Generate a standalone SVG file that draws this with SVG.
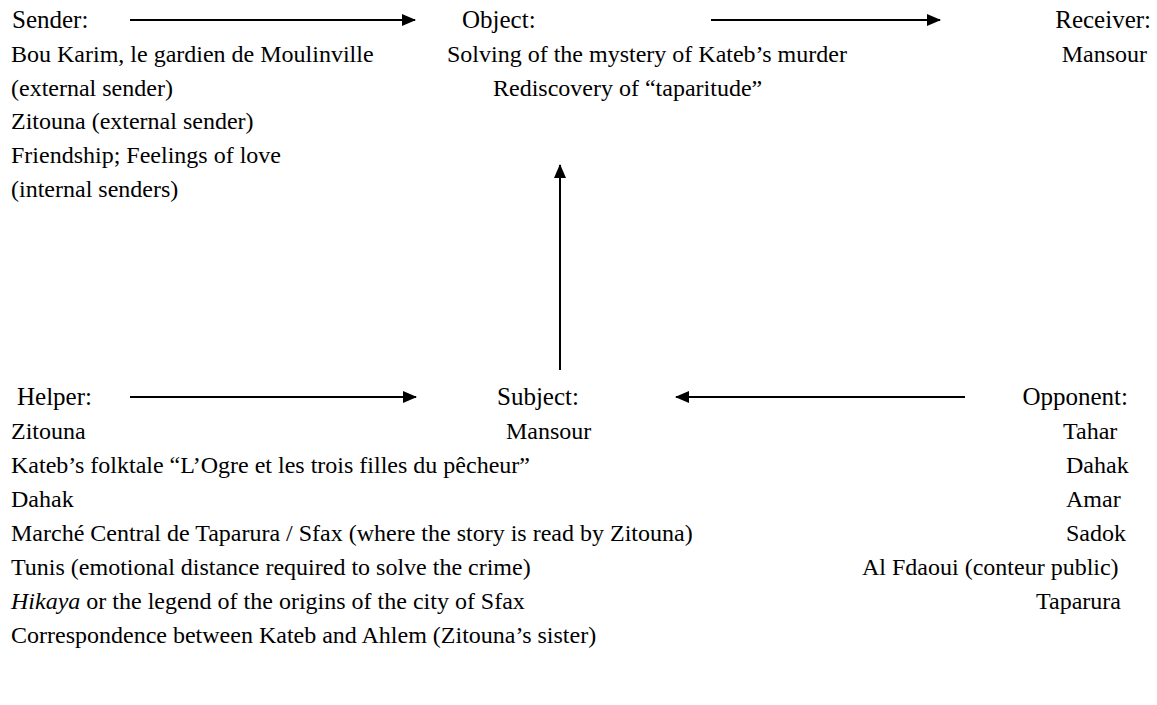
<svg xmlns="http://www.w3.org/2000/svg" width="1157" height="705" viewBox="0 0 1157 705">
  <style>
    text { font-family: "Liberation Serif", "Times New Roman", "DejaVu Serif", serif; fill: #000; }
    .head { font-size: 25px; }
    .body { font-size: 24px; }
    .end { text-anchor: end; }
    .conn line { stroke: #000; stroke-width: 2; }
  </style>
  <defs>
    <marker id="arrow" viewBox="0 0 14 12" refX="13" refY="6" markerWidth="14" markerHeight="12" markerUnits="userSpaceOnUse" orient="auto">
      <path d="M0,0 L14,6 L0,12 Z" fill="#000"/>
    </marker>
  </defs>
  <rect width="1157" height="705" fill="#fff"/>

  <!-- connectors -->
  <g id="connectors" class="conn">
    <line x1="130" y1="20" x2="415" y2="20" marker-end="url(#arrow)"/>
    <line x1="711" y1="20" x2="940" y2="20" marker-end="url(#arrow)"/>
    <line x1="560" y1="370" x2="560" y2="165" marker-end="url(#arrow)"/>
    <line x1="130" y1="397" x2="416" y2="397" marker-end="url(#arrow)"/>
    <line x1="965" y1="397" x2="676" y2="397" marker-end="url(#arrow)"/>
  </g>

  <!-- sender -->
  <g id="sender">
    <text class="head" x="12" y="28">Sender:</text>
    <text class="body" x="11" y="62">Bou Karim, le gardien de Moulinville</text>
    <text class="body" x="11" y="96">(external sender)</text>
    <text class="body" x="11" y="129">Zitouna (external sender)</text>
    <text class="body" x="11" y="163">Friendship; Feelings of love</text>
    <text class="body" x="11" y="197">(internal senders)</text>
  </g>

  <!-- object -->
  <g id="object">
    <text class="head" x="462" y="28">Object:</text>
    <text class="body" x="447" y="62">Solving of the mystery of Kateb’s murder</text>
    <text class="body" x="493" y="96">Rediscovery of “taparitude”</text>
  </g>

  <!-- receiver -->
  <g id="receiver">
    <text class="head end" x="1151" y="28">Receiver:</text>
    <text class="body end" x="1147" y="62">Mansour</text>
  </g>

  <!-- helper -->
  <g id="helper">
    <text class="head" x="17" y="405">Helper:</text>
    <text class="body" x="11" y="439">Zitouna</text>
    <text class="body" x="11" y="473">Kateb’s folktale “L’Ogre et les trois filles du pêcheur”</text>
    <text class="body" x="11" y="507">Dahak</text>
    <text class="body" x="11" y="541">Marché Central de Taparura / Sfax (where the story is read by Zitouna)</text>
    <text class="body" x="11" y="575">Tunis (emotional distance required to solve the crime)</text>
    <text class="body" x="11" y="609"><tspan font-style="italic">Hikaya</tspan> or the legend of the origins of the city of Sfax</text>
    <text class="body" x="11" y="643">Correspondence between Kateb and Ahlem (Zitouna’s sister)</text>
  </g>

  <!-- subject -->
  <g id="subject">
    <text class="head" x="497" y="405">Subject:</text>
    <text class="body" x="506" y="439">Mansour</text>
  </g>

  <!-- opponent -->
  <g id="opponent">
    <text class="head end" x="1128" y="405">Opponent:</text>
    <text class="body" x="1063" y="439">Tahar</text>
    <text class="body" x="1066" y="473">Dahak</text>
    <text class="body" x="1066" y="507">Amar</text>
    <text class="body" x="1066" y="541">Sadok</text>
    <text class="body" x="862" y="575">Al Fdaoui (conteur public)</text>
    <text class="body" x="1036" y="609">Taparura</text>
  </g>
</svg>
